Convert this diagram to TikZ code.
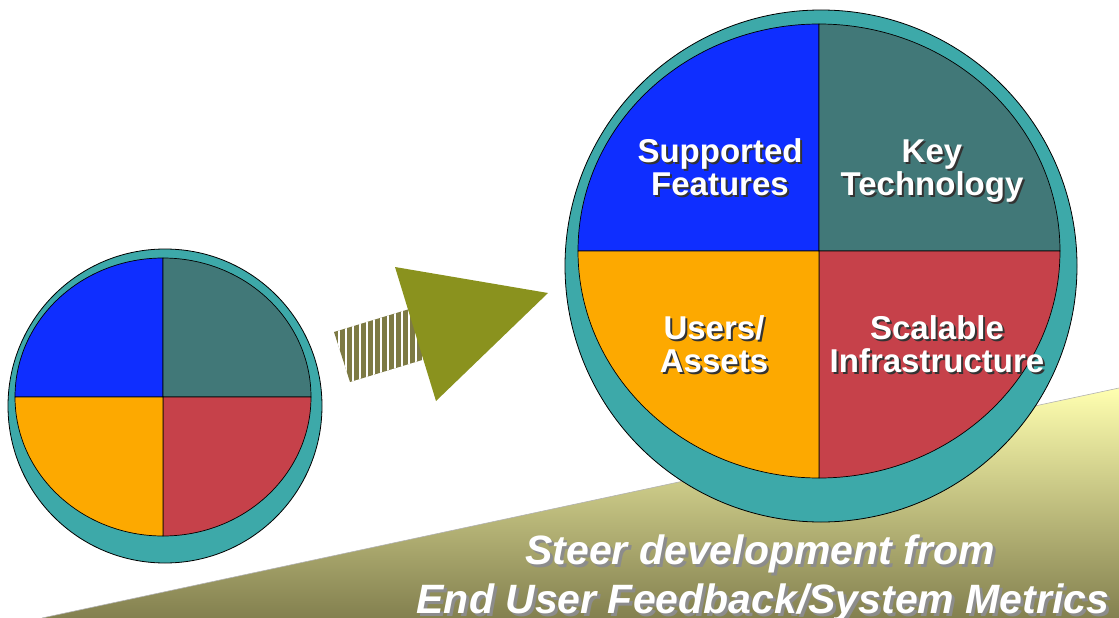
\documentclass[tikz,border=0pt]{standalone}
\usepackage{fontspec}
\setmainfont{Liberation Sans}
\definecolor{ringteal}{HTML}{3DA9A9}
\definecolor{qblue}{HTML}{0F2EFF}
\definecolor{qteal}{HTML}{417878}
\definecolor{qorange}{HTML}{FDA900}
\definecolor{qred}{HTML}{C6414A}
\definecolor{headcol}{HTML}{8A921E}
\definecolor{shaftcol}{HTML}{7D7A44}
\definecolor{wedgetop}{HTML}{FFFFB0}
\definecolor{wedgebot}{HTML}{83804F}
\tikzset{
  ring/.style={fill=ringteal, draw=black, line width=0.8pt},
  quad/.style={draw=black, line width=0.7pt},
  qfont/.style={font=\fontsize{33}{33}\selectfont\bfseries, inner sep=0pt, anchor=base},
  qtext/.style={qfont, text=white},
  qshadow/.style={qfont, text=black!80, xshift=2pt, yshift=-2pt},
  bfont/.style={font=\fontsize{41}{41}\selectfont\bfseries\itshape, inner sep=0pt, anchor=base},
  btext/.style={bfont, text=white},
  bshadow/.style={bfont, text=black!45, xshift=3pt, yshift=-3pt},
}
\newcommand{\qlabel}[4]{%
  \node[qshadow] (#1s) at (#2,#3) {#4};
  \node[qtext] (#1) at (#2,#3) {#4};}
\newcommand{\blabel}[4]{%
  \node[bshadow] (#1s) at (#2,#3) {#4};
  \node[btext] (#1) at (#2,#3) {#4};}
\begin{document}
\begin{tikzpicture}[x=1pt,y=-1pt]
\useasboundingbox (0,0) rectangle (1119,618);
% background wedge
\coordinate (w1) at (42,618);
\coordinate (w2) at (1119,388);
\coordinate (w3) at (1119,618);
\shade[top color=wedgetop, bottom color=wedgebot] (w1) -- (w2) -- (w3) -- cycle;
\draw[black!30, line width=0.6pt] (w1) -- (w2);
% small circle
\coordinate (sc) at (165,406);
\coordinate (sp) at (163,397);
\draw[ring] (sc) circle[radius=157];
\draw[quad, fill=qblue] (sp) -- ++(-148,0) arc[start angle=180, end angle=270, x radius=148, y radius=139] -- cycle;
\draw[quad, fill=qteal] (sp) -- ++(0,-139) arc[start angle=270, end angle=360, x radius=148, y radius=139] -- cycle;
\draw[quad, fill=qred] (sp) -- ++(148,0) arc[start angle=0, end angle=90, x radius=148, y radius=139] -- cycle;
\draw[quad, fill=qorange] (sp) -- ++(0,139) arc[start angle=90, end angle=180, x radius=148, y radius=139] -- cycle;
% big circle
\coordinate (bc) at (821,266);
\coordinate (bp) at (819,251);
\draw[ring] (bc) circle[radius=256];
\draw[quad, fill=qblue] (bp) -- ++(-241,0) arc[start angle=180, end angle=270, x radius=241, y radius=227] -- cycle;
\draw[quad, fill=qteal] (bp) -- ++(0,-227) arc[start angle=270, end angle=360, x radius=241, y radius=227] -- cycle;
\draw[quad, fill=qred] (bp) -- ++(241,0) arc[start angle=0, end angle=90, x radius=241, y radius=227] -- cycle;
\draw[quad, fill=qorange] (bp) -- ++(0,227) arc[start angle=90, end angle=180, x radius=241, y radius=227] -- cycle;
% arrow
\coordinate (s1) at (334,332);
\coordinate (s2) at (439,300);
\coordinate (s3) at (455,350);
\coordinate (s4) at (350,382);
\begin{scope}
  \clip (s1) -- (s2) -- (s3) -- (s4) -- cycle;
  \fill[shaftcol] (s1) -- (s2) -- (s3) -- (s4) -- cycle;
  \foreach \xx in {339,346,...,452} \draw[white, line width=1.8pt] (\xx,290) -- (\xx,390);
\end{scope}
\coordinate (t1) at (395,267);
\coordinate (t2) at (548,293);
\coordinate (t3) at (436,401);
\fill[headcol] (t1) -- (t2) -- (t3) -- cycle;
% labels
\qlabel{sup}{720}{162}{Supported}
\qlabel{fea}{720}{195}{Features}
\qlabel{key}{932}{162}{Key}
\qlabel{tec}{932}{195}{Technology}
\qlabel{use}{714}{339}{Users/}
\qlabel{ass}{714}{372}{Assets}
\qlabel{sca}{937}{339}{Scalable}
\qlabel{inf}{937}{372}{Infrastructure}
\blabel{st1}{760}{564}{Steer development from}
\blabel{st2}{763}{613}{End User Feedback/System Metrics}
\end{tikzpicture}
\end{document}
